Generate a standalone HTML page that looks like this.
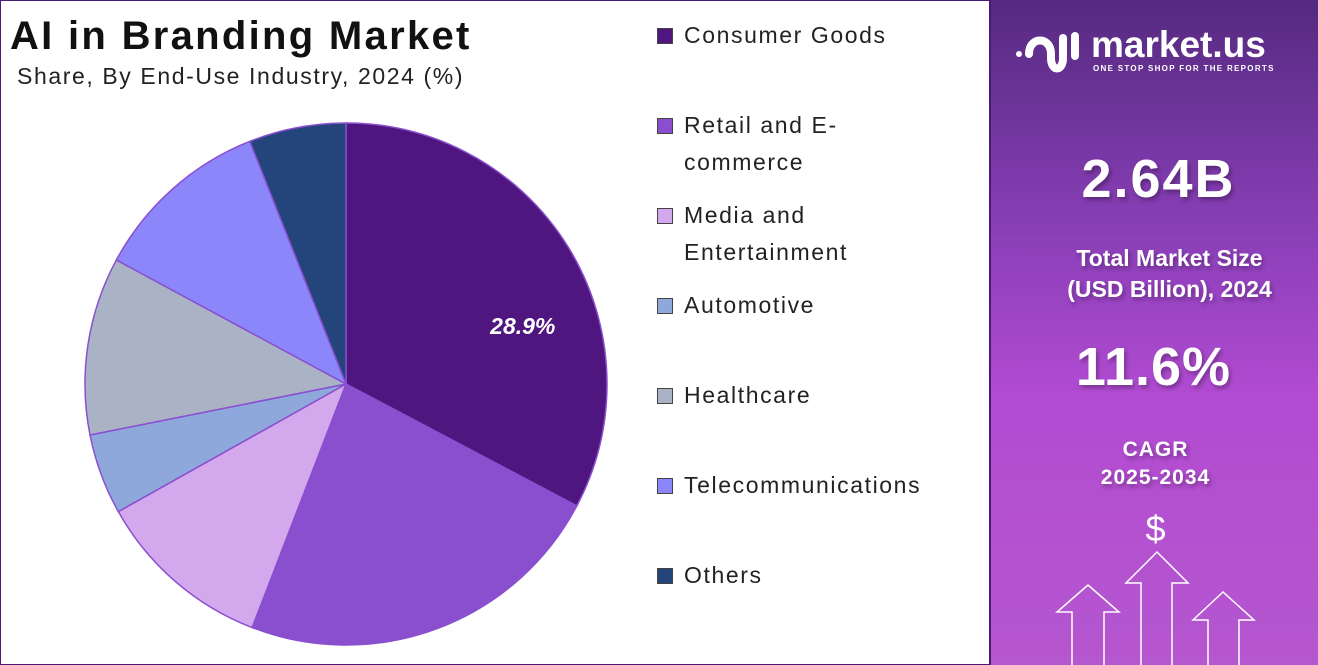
<!DOCTYPE html>
<html><head><meta charset="utf-8"><style>
body{margin:0;width:1318px;height:665px;overflow:hidden;background:#fff;font-family:"Liberation Sans",sans-serif}
#wrap{position:absolute;left:0;top:0;width:1316px;height:663px;border:1px solid #4a1a7a}
.t{position:absolute;white-space:nowrap}
.leg{position:absolute;left:657px;font-size:23px;color:#222;line-height:37px;letter-spacing:1.6px}
.sw{position:absolute;left:0;top:11px;width:16px;height:16px;border:1px solid #444;box-sizing:border-box}
#panel{position:absolute;left:989px;top:0;width:329px;height:665px;background:linear-gradient(180deg,#552a80 0%,#8a3fb8 35%,#b24bd2 60%,#b557cf 100%);border-left:2px solid #4a1a7a;box-sizing:border-box}
.w{position:absolute;color:#fff;font-weight:bold;text-align:center;width:329px;left:0;text-shadow:2px 3px 4px rgba(0,0,0,.3)}
</style></head><body>
<div id="wrap"></div>
<div class="t" style="left:10px;top:14px;font-size:40px;font-weight:bold;color:#111;letter-spacing:2.3px">AI in Branding Market</div>
<div class="t" style="left:17px;top:63px;font-size:23px;color:#222;letter-spacing:1.6px">Share, By End-Use Industry, 2024 (%)</div>
<svg id="pie" width="990" height="665" style="position:absolute;left:0;top:0"></svg>
<div id="legend"></div>
<div id="panel">
 <svg width="80" height="60" style="position:absolute;left:20px;top:28px" fill="none" stroke="#fff" stroke-width="8" stroke-linecap="round">
  <circle cx="8" cy="26" r="3" fill="#fff" stroke="none"/>
  <path d="M18 26C18 8 40 8 40 26V30C40 44 52 44 52 30"/>
  <path d="M52 10V28"/><path d="M64 8V28"/>
 </svg>
 <div class="t" style="left:100px;top:24px;color:#fff;font-size:37px;font-weight:bold">market.us</div>
 <div class="t" style="left:102px;top:64px;color:#fff;font-size:8px;font-weight:bold;letter-spacing:1.3px">ONE STOP SHOP FOR THE REPORTS</div>
 <div class="w" style="top:148px;font-size:54px;letter-spacing:2px;left:3px">2.64B</div>
 <div class="w" style="top:243px;font-size:23px;line-height:31px;left:14px">Total Market Size<br>(USD Billion), 2024</div>
 <div class="w" style="top:336px;font-size:54px;letter-spacing:1px;left:-2px">11.6%</div>
 <div class="w" style="top:436px;font-size:21px;line-height:28px;letter-spacing:1px">CAGR<br>2025-2034</div>
 <div class="w" style="top:508px;font-size:36px;font-weight:normal;text-shadow:none;left:0px">$</div>
 <svg width="329" height="665" style="position:absolute;left:-2px;top:0" fill="none" stroke="#fff" stroke-width="1.5">
  <path d="M83 665V612H68L99 585L130 612H115V665"/>
  <path d="M152 665V583H137L168 552L199 583H183V665"/>
  <path d="M219 665V620H204L234 592L265 620H250V665"/>
 </svg>
</div>
<script>
const categories=["Consumer Goods","Retail and E-commerce","Media and Entertainment","Automotive","Healthcare","Telecommunications","Others"];
const legendLabels=["Consumer Goods","Retail and E-<br>commerce","Media and<br>Entertainment","Automotive","Healthcare","Telecommunications","Others"];
const values=[32.7,23.1,11.0,5.0,11.0,11.1,6.0];
const labels=["28.9%","","","","","",""];
const colors=["#4f1680","#8a4fcf","#d4a8ec","#8fa8dc","#aab3c6","#8b87fb","#24457c"];
const legendTops=[17,107,197,287,377,467,557];
const svg=document.getElementById('pie');
const NS="http://www.w3.org/2000/svg";
const cx=346,cy=384,r=261;
const total=values.reduce((a,b)=>a+b,0);
function pt(frac,rad){const a=frac*2*Math.PI;return[cx+rad*Math.sin(a),cy-rad*Math.cos(a)];}
let acc=0;
values.forEach((v,i)=>{
 const s=acc/total,e=(acc+v)/total;acc+=v;
 const p0=pt(s,r),p1=pt(e,r),large=(e-s)>0.5?1:0;
 const p=document.createElementNS(NS,'path');
 p.setAttribute('d',`M${cx},${cy}L${p0[0]},${p0[1]}A${r},${r} 0 ${large} 1 ${p1[0]},${p1[1]}Z`);
 p.setAttribute('fill',colors[i]);p.setAttribute('stroke','#8a4fcf');p.setAttribute('stroke-width','1.5');
 
 
 svg.appendChild(p);
 if(labels[i]){
  const m=pt(s+(e-s)*0.61,186);
  const t=document.createElementNS(NS,'text');
  t.setAttribute('x',m[0]);t.setAttribute('y',m[1]+8);
  t.setAttribute('fill','#fff');t.setAttribute('font-size','23');t.setAttribute('font-weight','bold');t.setAttribute('font-style','italic');
  t.setAttribute('text-anchor','middle');t.setAttribute('font-family','Liberation Sans, sans-serif');
  t.textContent=labels[i];
  
  
  svg.appendChild(t);
 }
});
const leg=document.getElementById('legend');
categories.forEach((c,i)=>{
 const d=document.createElement('div');d.className='leg';d.style.top=legendTops[i]+'px';
 d.innerHTML=`<span class="sw" style="background:${colors[i]}"></span><span style="display:block;padding-left:27px">${legendLabels[i]}</span>`;
 
 
 leg.appendChild(d);
});
</script>
</body></html>
